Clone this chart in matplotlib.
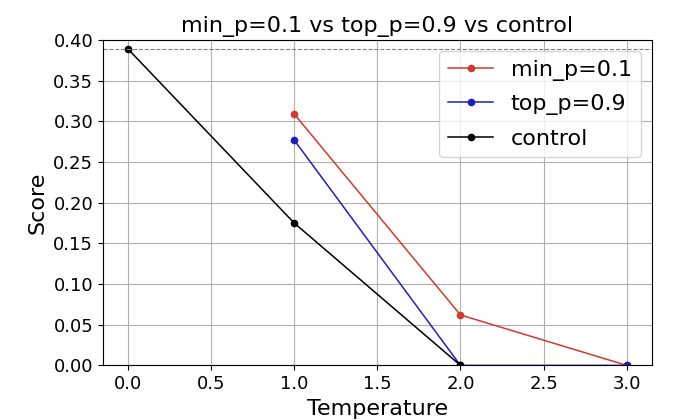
import matplotlib.pyplot as plt

temps_min_p = [1.0, 2.0, 3.0]
scores_min_p = [0.309, 0.062, 0.0]
temps_top_p = [1.0, 2.0, 3.0]
scores_top_p = [0.277, 0.0, 0.0]
temps_control = [0.0, 1.0, 2.0]
scores_control = [0.389, 0.175, 0.0]
baseline = 0.389

fig, ax = plt.subplots(figsize=(6.86, 4.2), dpi=100)
ax.plot(temps_min_p, scores_min_p, marker='o', markersize=4.5, color='#d03a2f', linewidth=1.1, label='min_p=0.1')
ax.plot(temps_top_p, scores_top_p, marker='o', markersize=4.5, color='#1f1fbf', linewidth=1.1, label='top_p=0.9')
ax.plot(temps_control, scores_control, marker='o', markersize=4.5, color='black', linewidth=1.1, label='control')
ax.axhline(baseline, color='grey', linestyle='--', linewidth=0.8)

ax.set_xlim(-0.15, 3.15)
ax.set_ylim(0, 0.40)
ax.set_xticks([0, 0.5, 1.0, 1.5, 2.0, 2.5, 3.0])
ax.set_yticks([i * 0.05 for i in range(9)])
ax.yaxis.set_major_formatter(plt.FormatStrFormatter('%.2f'))
ax.tick_params(labelsize=13)
ax.grid(True)
ax.set_xlabel('Temperature', fontsize=16)
ax.set_ylabel('Score', fontsize=16)
ax.set_title('min_p=0.1 vs top_p=0.9 vs control', fontsize=16)
ax.legend(fontsize=16, loc='upper right', labelspacing=0.6)

plt.subplots_adjust(left=0.15, right=0.95, bottom=0.13, top=0.905)
plt.savefig('out.png')
plt.close()
